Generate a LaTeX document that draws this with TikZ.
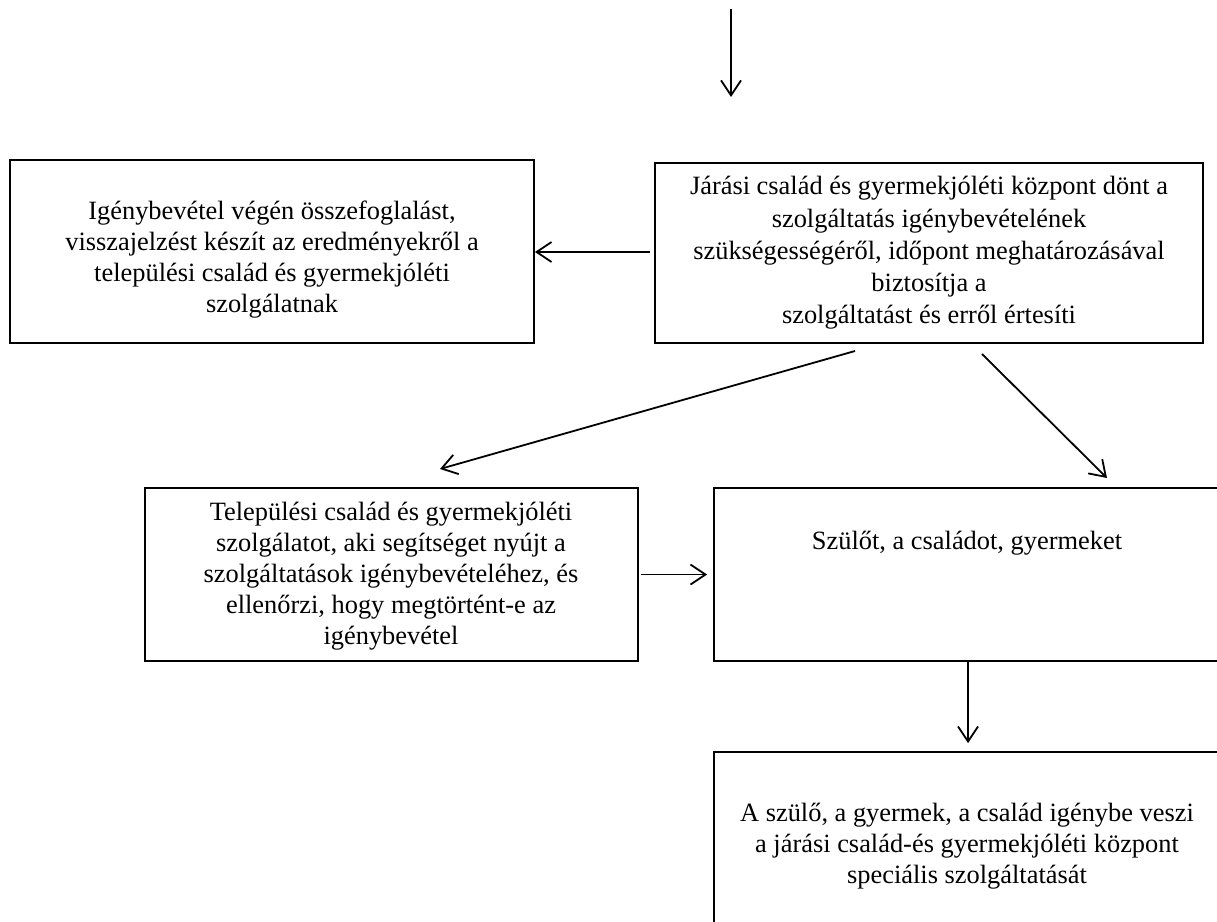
\documentclass[tikz,border=0pt]{standalone}
\usepackage{fontspec}
\setmainfont{Liberation Serif}
\usetikzlibrary{arrows.meta}
\begin{document}
\begin{tikzpicture}[x=1pt,y=-1pt,
  box/.style={draw=black, line width=1.8pt, rectangle, inner sep=0pt},
  txt/.style={align=center, font=\fontsize{26.4}{31}\selectfont, inner sep=0pt},
  arr/.style={line width=1.8pt, -{Straight Barb[length=15pt,width=20pt,line width=1.8pt]}}]
\useasboundingbox (0,0) rectangle (1217,921);
\fill[white] (0,0) rectangle (1217,921);
% boxes
\node[box, minimum width=524pt, minimum height=183pt] (A) at (272,251.5) {};
\node[box, minimum width=548pt, minimum height=180pt] (B) at (929,253) {};
\node[box, minimum width=493pt, minimum height=173pt] (C) at (391.5,574.5) {};
\node[box, minimum width=508pt, minimum height=173pt] (D) at (968,574.5) {};
\node[box, minimum width=508pt, minimum height=183pt] (E) at (968,843.5) {};
% texts
\node[txt] (tA) at (272,260) {Igénybevétel végén összefoglalást,\\visszajelzést készít az eredményekről a\\települési család és gyermekjóléti\\szolgálatnak};
\node[txt, font=\fontsize{26.4}{32.3}\selectfont] (tB) at (929,253) {Járási család és gyermekjóléti központ dönt a\\szolgáltatás igénybevételének\\szükségességéről, időpont meghatározásával\\biztosítja a\\szolgáltatást és erről értesíti};
\node[txt] (tC) at (391,576) {Települési család és gyermekjóléti\\szolgálatot, aki segítséget nyújt a\\szolgáltatások igénybevételéhez, és\\ellenőrzi, hogy megtörtént-e az\\igénybevétel};
\node[txt] (tD) at (967,543) {Szülőt, a családot, gyermeket};
\node[txt] (tE) at (967,846) {A szülő, a gyermek, a család igénybe veszi\\a járási család-és gyermekjóléti központ\\speciális szolgáltatását};
% connectors
\coordinate (t0) at (731,9);
\coordinate (t1) at (731,97);
\draw[arr] (t0) -- (t1);
\coordinate (bA) at (650,252);
\draw[arr] (bA) -- (bA -| A.east);
\coordinate (s3) at (855,351);
\coordinate (e3) at (440,469);
\draw[arr] (s3) -- (e3);
\coordinate (s4) at (982,354);
\coordinate (e4) at (1107,478);
\draw[arr] (s4) -- (e4);
\draw[arr] ([xshift=2pt]C.east) -- ([xshift=-6pt]D.west);
\draw[arr] (D.south) -- ([yshift=8pt]E.north);
\end{tikzpicture}
\end{document}
